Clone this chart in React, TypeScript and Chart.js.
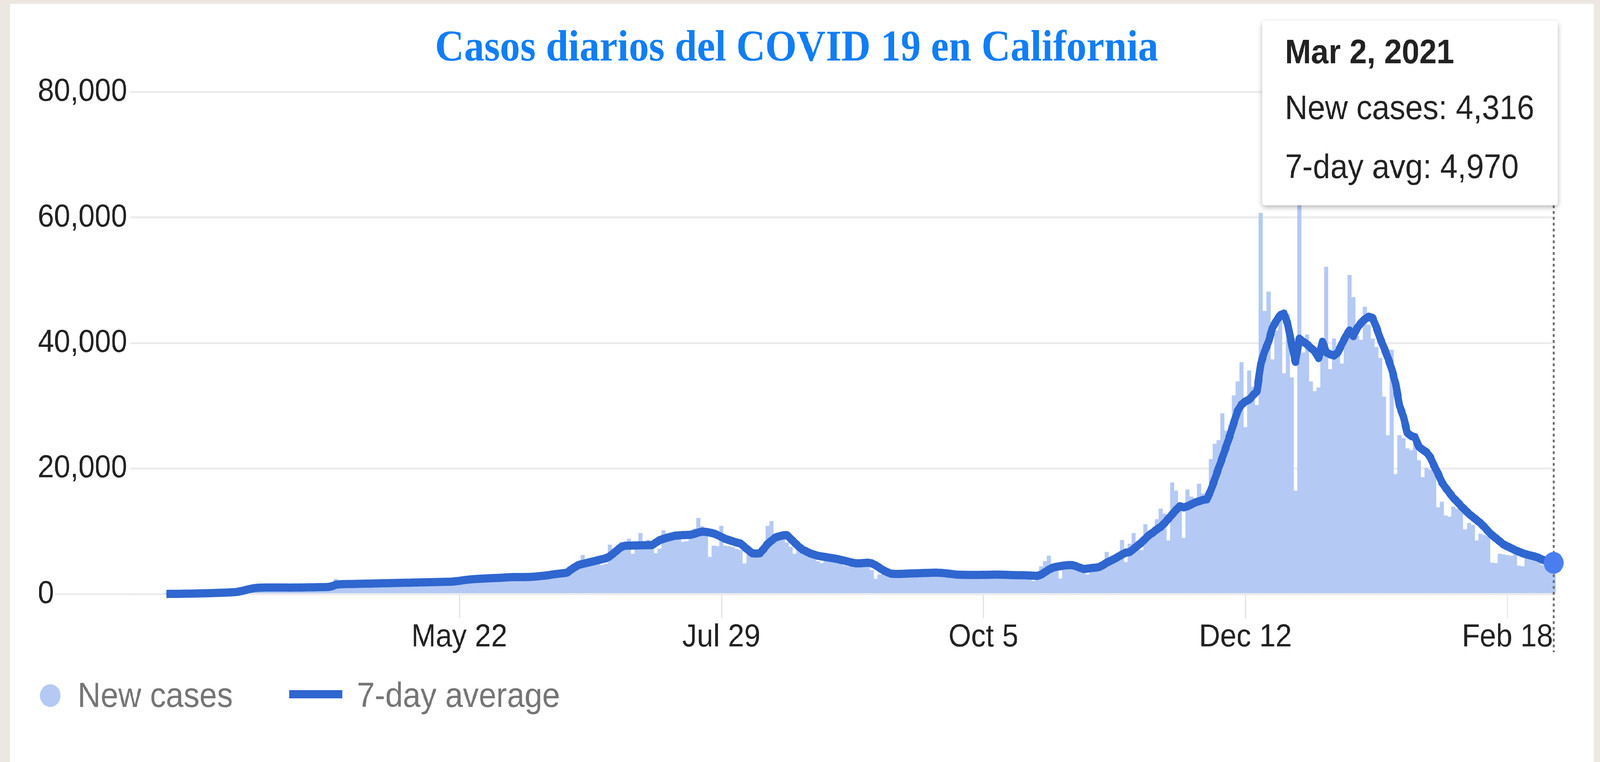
import React, { useEffect, useRef, useState } from 'react';
import { Chart, registerables, Tooltip } from 'chart.js';

Chart.register(...registerables);

const TITLE = 'Casos diarios del COVID 19 en California';
const START_DATE_UTC = Date.UTC(2020, 2, 7);
const SERIES_LABELS = ['New cases', '7-day average'];
const TOOLTIP_LABELS = ['New cases', '7-day avg'];
const TICK_DATES = ['2020-05-22', '2020-07-29', '2020-10-05', '2020-12-12', '2021-02-18'];
const TICK_LABELS = ['May 22', 'Jul 29', 'Oct 5', 'Dec 12', 'Feb 18'];

// Daily new cases from Mar 7, 2020 to Mar 2, 2021
const newCases = [
  20, 18, 25, 45, 50, 60, 75, 80, 75, 95,
  140, 160, 170, 200, 200, 180, 230, 330, 420, 650,
  900, 1150, 1050, 1100, 1250, 1150, 1100, 1200, 1050, 800,
  850, 1150, 1180, 1100, 1200, 1050, 850, 900, 1200, 1250,
  1150, 1300, 1250, 1400, 2400, 1700, 1750, 1700, 1800, 1650,
  1350, 1400, 1800, 1900, 1850, 1950, 1750, 1400, 1450, 1950,
  1950, 1900, 2000, 1800, 1500, 1550, 2050, 2100, 2000, 2150,
  1900, 1600, 1650, 2150, 2250, 2300, 2600, 2500, 2100, 2200,
  2700, 2750, 2800, 2900, 2600, 2200, 2300, 2900, 3000, 2950,
  3000, 2700, 2200, 2300, 3000, 3100, 3000, 3300, 3000, 2600,
  2700, 3500, 3600, 3700, 4000, 4200, 4000, 4500, 6200, 5000,
  5200, 5600, 5300, 4600, 4800, 7850, 7000, 7500, 8300, 7600,
  8800, 6400, 7200, 9700, 8200, 8600, 8000, 6500, 7200, 10150,
  9600, 9500, 9900, 9200, 8300, 8400, 10000, 10400, 12100, 10800,
  9800, 5900, 7700, 7600, 10850, 7700, 7600, 7500, 7200, 7000,
  4850, 6300, 6600, 6200, 6000, 7500, 10850, 11600, 9000, 8700,
  8800, 8200, 7500, 6400, 6900, 6600, 6500, 6200, 5700, 5200,
  4900, 6400, 6000, 5900, 5700, 5200, 4500, 4400, 5300, 5200,
  5100, 5000, 4600, 3800, 2400, 3100, 3300, 3200, 3400, 3000,
  2600, 2700, 3400, 3600, 3500, 3700, 3300, 2800, 2900, 3600,
  3500, 3400, 3600, 3100, 2700, 2600, 3200, 3300, 3200, 3400,
  3100, 2600, 2500, 3300, 3400, 3300, 3500, 3200, 2700, 2600,
  3200, 3300, 3300, 3400, 2900, 2050, 2600, 4400, 5200, 6100,
  4800, 4300, 2450, 4000, 5250, 4900, 4600, 4500, 4000, 3100,
  3500, 4400, 4800, 5100, 6700, 5600, 5200, 5700, 8600, 5100,
  8000, 9700, 7600, 7000, 11100, 9800, 10200, 11900, 13600, 12800,
  8530, 17760, 16440, 14000, 8940, 16650, 15500, 15000, 17560, 16000,
  15800, 21500, 23930, 24500, 28780, 26000, 27000, 31640, 33870, 36930,
  26580, 35610, 33000, 30100, 60730, 45080, 48170, 37370, 42000, 45080,
  35180, 44640, 34500, 16440, 64000, 38480, 41340, 33870, 32310, 32900,
  38000, 52140, 35830, 40680, 38480, 36710, 40000, 50820, 47290, 41120,
  40500, 45760, 42900, 40680, 39350, 37600, 31440, 25280, 38910, 19080,
  25300, 24800, 23200, 22900, 25600, 21300, 18600, 20100, 19800, 19500,
  13800, 14700, 12500, 12300, 13900, 13600, 13200, 10300, 11300, 11000,
  8500, 9600, 9400, 9200, 5000, 4900, 6400, 6300, 6200, 6100,
  6300, 4500, 4400, 5900, 5800, 5700, 5600, 4600, 4500, 4400,
  4316,
];

// 7-day average, same days
const sevenDayAvg = [
  20, 25, 30, 38, 45, 55, 65, 80, 95, 110,
  125, 140, 160, 180, 200, 225, 250, 280, 320, 420,
  560, 720, 860, 960, 1010, 1030, 1040, 1045, 1050, 1050,
  1040, 1035, 1030, 1035, 1040, 1050, 1060, 1070, 1080, 1090,
  1100, 1110, 1130, 1250, 1500, 1560, 1590, 1600, 1610, 1620,
  1640, 1650, 1660, 1670, 1690, 1700, 1720, 1730, 1750, 1760,
  1770, 1790, 1800, 1810, 1830, 1840, 1860, 1870, 1880, 1900,
  1910, 1930, 1940, 1960, 1980, 2040, 2110, 2200, 2280, 2340,
  2390, 2430, 2460, 2490, 2520, 2550, 2570, 2600, 2640, 2680,
  2700, 2710, 2700, 2700, 2720, 2750, 2800, 2870, 2930, 3000,
  3100, 3180, 3260, 3330, 3420, 3900, 4300, 4650, 4800, 4950,
  5100, 5250, 5400, 5550, 5700, 6000, 6500, 7000, 7500, 7700,
  7720, 7740, 7750, 7760, 7780, 7790, 7800, 8200, 8600, 8800,
  9000, 9150, 9300, 9350, 9400, 9420, 9450, 9600, 9800, 9950,
  9900, 9800, 9650, 9400, 9100, 8800, 8600, 8400, 8200, 8050,
  7500, 7000, 6500, 6450, 6500, 7200, 8000, 8500, 9000, 9200,
  9350, 9400, 8800, 8200, 7600, 7100, 6800, 6500, 6300, 6100,
  6000, 5900, 5800, 5700, 5600, 5450, 5300, 5150, 5000, 4900,
  4900, 4950, 5000, 4900, 4600, 4200, 3800, 3500, 3250, 3200,
  3200, 3220, 3250, 3280, 3300, 3320, 3340, 3360, 3380, 3400,
  3400, 3380, 3320, 3250, 3180, 3100, 3080, 3060, 3050, 3050,
  3050, 3050, 3060, 3070, 3080, 3090, 3100, 3080, 3060, 3040,
  3020, 3000, 3000, 2980, 2950, 2920, 2900, 3100, 3500, 3900,
  4200, 4350, 4450, 4550, 4600, 4620, 4450, 4200, 4000, 4050,
  4150, 4200, 4300, 4600, 5000, 5300, 5600, 5950, 6300, 6600,
  6700, 7200, 7700, 8200, 8800, 9400, 9800, 10300, 10700, 11300,
  12000, 12700, 13400, 14000, 13800, 14000, 14300, 14600, 14800, 15000,
  15100, 16500, 18200, 20000, 21700, 23500, 25300, 27300, 29200, 30200,
  30700, 31000, 31700, 32300, 36700, 38700, 40200, 42400, 43500, 44400,
  44700, 43000, 39800, 37000, 40700, 40200, 39800, 39200, 38700, 37600,
  40200, 38500, 38200, 38000, 38500, 39800, 41000, 42000, 41100, 42400,
  43200, 43800, 44200, 44000, 42500, 40700, 39200, 37600, 35800, 33500,
  30000, 28300, 25700, 25200, 25000, 23500, 23000, 22600, 21800, 20400,
  19200, 17800, 16900, 16100, 15300, 14700, 14000, 13400, 12800, 12300,
  11800, 11300, 10700, 10000, 9400, 8900, 8400, 7900, 7600, 7300,
  7000, 6750, 6500, 6300, 6150, 6000, 5800, 5500, 5300, 5150,
  4970,
];

const DESIGN_W = 4487;
const DESIGN_H = 1951;
const FONT = '"Liberation Sans", Arial, Helvetica, sans-serif';
const BAR_COLOR = '#b4c9f4';
const LINE_COLOR = '#2f66cf';
const POINT_COLOR = '#4a7ef0';
const GRID_COLOR = '#ececec';
const TEXT_COLOR = '#222222';
const LEGEND_TEXT = '#757575';

const dayIndex = (iso: string) => (Date.parse(iso + 'T00:00:00Z') - START_DATE_UTC) / 86400000;
const formatDay = (i: number) =>
  new Date(START_DATE_UTC + Math.round(i) * 86400000).toLocaleDateString('en-US', {
    month: 'short', day: 'numeric', year: 'numeric', timeZone: 'UTC',
  });

(Tooltip as any).positioners.topRightFixed = function (this: any) {
  const area = this.chart.chartArea;
  return { x: area.right - 1, y: area.top - 182, xAlign: 'right', yAlign: 'top' };
};

const baselinePlugin = {
  id: 'baselineExtend',
  beforeDatasetsDraw(chart: any) {
    const ctx = chart.ctx;
    const ys = chart.scales.y;
    const y0 = ys.getPixelForValue(0);
    ctx.save();
    ctx.font = `82px ${FONT}`;
    const w = ctx.measureText('0').width;
    ctx.strokeStyle = GRID_COLOR;
    ctx.lineWidth = 5;
    ctx.beginPath();
    ctx.moveTo(ys.left + w + 2, y0);
    ctx.lineTo(chart.chartArea.left, y0);
    ctx.stroke();
    ctx.restore();
  },
};

const crosshairPlugin = {
  id: 'crosshair',
  beforeDatasetDraw(chart: any, args: any) {
    if (args.index !== 1) return;
    const active = chart.getActiveElements();
    if (!active.length) return;
    const el = active[0].element;
    const tt = chart.tooltip;
    const top = tt && tt.opacity ? tt.y + tt.height : chart.chartArea.top;
    const bottom = chart.scales.x.bottom - 13;
    const ctx = chart.ctx;
    ctx.save();
    ctx.strokeStyle = '#6e6e6e';
    ctx.lineWidth = 6;
    ctx.setLineDash([7, 8]);
    ctx.beginPath();
    ctx.moveTo(el.x, top);
    ctx.lineTo(el.x, bottom);
    ctx.stroke();
    ctx.restore();
  },
};

const tooltipShadowPlugin = {
  id: 'tooltipShadow',
  beforeTooltipDraw(chart: any, args: any) {
    const t = args.tooltip;
    if (!t.opacity) return;
    const ctx = chart.ctx;
    ctx.save();
    ctx.shadowColor = 'rgba(0,0,0,0.30)';
    ctx.shadowBlur = 14;
    ctx.shadowOffsetY = 5;
    ctx.fillStyle = '#ffffff';
    ctx.beginPath();
    ctx.roundRect(t.x, t.y, t.width, t.height, 8);
    ctx.fill();
    ctx.restore();
  },
};

const legendPlugin = {
  id: 'customLegend',
  afterDraw(chart: any) {
    const ctx = chart.ctx;
    const area = chart.chartArea;
    const cy = chart.scales.x.bottom + 98;
    const ds = chart.data.datasets;
    ctx.save();
    ctx.font = `89px ${FONT}`;
    ctx.textAlign = 'left';
    ctx.textBaseline = 'alphabetic';
    const cx = area.left - 224;
    ctx.fillStyle = ds[0].backgroundColor;
    ctx.beginPath();
    ctx.arc(cx, cy, 29, 0, Math.PI * 2);
    ctx.fill();
    ctx.fillStyle = LEGEND_TEXT;
    const t1x = cx + 77;
    ctx.fillText(ds[0].label, t1x, cy + 29);
    const w1 = ctx.measureText(ds[0].label).width;
    const lx = t1x + w1 + 158;
    ctx.fillStyle = ds[1].borderColor;
    ctx.fillRect(lx, cy - 14, 149, 21);
    ctx.fillStyle = LEGEND_TEXT;
    ctx.fillText(ds[1].label, lx + 149 + 41, cy + 29);
    ctx.restore();
  },
};

function viewportScale() {
  const w = Math.min(window.innerWidth || DESIGN_W, 4096);
  const h = window.innerHeight || DESIGN_H;
  return { sx: w / DESIGN_W, sy: h / DESIGN_H };
}

export default function App() {
  const ref = useRef<HTMLCanvasElement>(null);
  const [scale] = useState(viewportScale);

  useEffect(() => {
    const barData = newCases.map((v, i) => ({ x: i, y: v }));
    const lineData = sevenDayAvg.map((v, i) => ({ x: i, y: v }));
    const last = newCases.length - 1;

    const chart = new Chart(ref.current as HTMLCanvasElement, {
      type: 'bar',
      data: {
        datasets: [
          {
            type: 'bar',
            label: SERIES_LABELS[0],
            data: barData,
            backgroundColor: BAR_COLOR,
            hoverBackgroundColor: BAR_COLOR,
            borderWidth: 0,
            barPercentage: 1,
            categoryPercentage: 1,
            clip: false,
            order: 1,
          } as any,
          {
            type: 'line',
            label: SERIES_LABELS[1],
            data: lineData,
            borderColor: LINE_COLOR,
            borderWidth: 21,
            borderCapStyle: 'butt',
            borderJoinStyle: 'round',
            tension: 0,
            fill: false,
            pointRadius: 0,
            pointHoverRadius: 28,
            pointHoverBorderWidth: 0,
            pointHoverBackgroundColor: POINT_COLOR,
            pointBackgroundColor: POINT_COLOR,
            clip: false,
            order: 0,
          } as any,
        ],
      },
      options: {
        animation: false,
        responsive: false,
        maintainAspectRatio: false,
        devicePixelRatio: 1,
        events: [],
        layout: { padding: { left: 106, right: 125, top: 0, bottom: 268 } },
        scales: {
          x: {
            type: 'linear',
            min: -9.44,
            max: 360.46,
            offset: false,
            grid: {
              offset: false,
              drawOnChartArea: false,
              drawTicks: true,
              tickLength: 62,
              tickWidth: 3,
              tickColor: '#e2e2e2',
              color: '#e2e2e2',
            },
            border: { display: false },
            ticks: {
              autoSkip: false,
              maxRotation: 0,
              minRotation: 0,
              padding: 0,
              color: TEXT_COLOR,
              font: { family: FONT, size: 82 },
              callback: (_v: any, i: number) => TICK_LABELS[i],
            },
            afterBuildTicks: (s: any) => {
              s.ticks = TICK_DATES.map((d) => ({ value: dayIndex(d) }));
            },
            afterFit: (s: any) => {
              s.height = 162;
            },
          } as any,
          y: {
            type: 'linear',
            min: 0,
            max: 80000,
            grid: { color: GRID_COLOR, lineWidth: 5, drawTicks: false },
            border: { display: false },
            ticks: {
              stepSize: 20000,
              padding: 12,
              crossAlign: 'far',
              color: TEXT_COLOR,
              font: { family: FONT, size: 82 },
              callback: (v: any) => Number(v).toLocaleString('en-US'),
            },
            afterFit: (s: any) => {
              s.width = 259;
            },
          } as any,
        },
        plugins: {
          legend: { display: false },
          title: {
            display: true,
            text: TITLE,
            color: '#117ef5',
            font: { family: '"Liberation Serif", "Times New Roman", serif', size: 113, weight: 'bold' },
            padding: { top: 58, bottom: 42 },
          },
          tooltip: {
            enabled: true,
            position: 'topRightFixed' as any,
            backgroundColor: '#ffffff',
            titleColor: TEXT_COLOR,
            bodyColor: TEXT_COLOR,
            titleFont: { family: FONT, size: 88, weight: 'bold' },
            bodyFont: { family: FONT, size: 88 },
            padding: { top: 31, bottom: 41, left: 64, right: 66 } as any,
            titleMarginBottom: 38,
            bodySpacing: 45,
            caretSize: 0,
            caretPadding: 0,
            cornerRadius: 8,
            displayColors: false,
            borderWidth: 0,
            animation: false as any,
            callbacks: {
              title: (items: any[]) => formatDay(items[0].parsed.x),
              label: (item: any) =>
                `${TOOLTIP_LABELS[item.datasetIndex]}: ${Math.round(item.parsed.y).toLocaleString('en-US')}`,
            },
          },
        },
      } as any,
      plugins: [baselinePlugin, crosshairPlugin, tooltipShadowPlugin, legendPlugin],
    });

    const active = [
      { datasetIndex: 0, index: last },
      { datasetIndex: 1, index: last },
    ];
    chart.setActiveElements([{ datasetIndex: 1, index: last }]);
    chart.update();
    const pt = chart.getDatasetMeta(1).data[last] as any;
    chart.tooltip?.setActiveElements(active, { x: pt.x, y: pt.y });
    chart.render();

    return () => chart.destroy();
  }, []);

  return (
    <div style={{ position: 'fixed', left: 0, top: 0, width: '100vw', height: '100vh', background: '#ece8e1', overflow: 'hidden' }}>
      <div
        style={{
          position: 'absolute',
          left: 0,
          top: 0,
          width: DESIGN_W,
          height: DESIGN_H,
          transformOrigin: '0 0',
          transform: `scale(${scale.sx}, ${scale.sy})`,
        }}
      >
        <div style={{ position: 'absolute', left: 28, top: 10, width: 4442, height: 1941, background: '#ffffff' }} />
        <canvas
          ref={ref}
          width={DESIGN_W}
          height={DESIGN_H}
          style={{ position: 'absolute', left: 0, top: 0, width: DESIGN_W, height: DESIGN_H }}
        />
      </div>
    </div>
  );
}
